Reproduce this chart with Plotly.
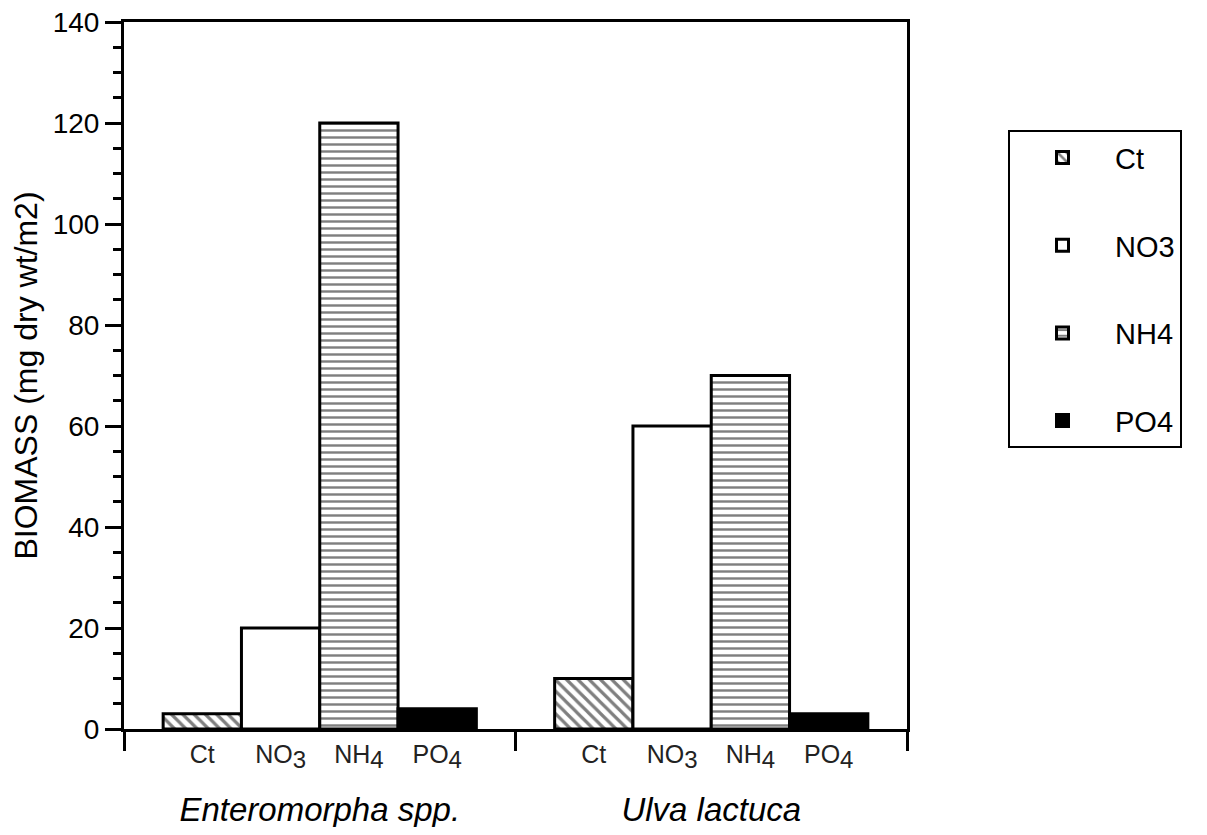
import plotly.graph_objects as go

# ---- data ----
groups = ["Enteromorpha spp.", "Ulva lactuca"]
treatments = ["Ct", "NO3", "NH4", "PO4"]
sub_labels = ["Ct",
              "NO<sub><span style='font-size:24px'>3</span></sub>",
              "NH<sub><span style='font-size:24px'>4</span></sub>",
              "PO<sub><span style='font-size:24px'>4</span></sub>"]
ct_vals = [3, 10]
no3_vals = [20, 60]
nh4_vals = [120, 70]
po4_vals = [4, 3]

series = [ct_vals, no3_vals, nh4_vals, po4_vals]

FONT = "Liberation Sans, Arial, sans-serif"
BAR_SPAN = len(treatments) + 1  # bars per group plus half-bar gap on each side

styles = [
    dict(color="white", pattern=dict(shape="\\", fgcolor="black", bgcolor="white", size=8, solidity=0.4)),
    dict(color="white"),
    dict(color="white", pattern=dict(shape="-", fgcolor="black", bgcolor="white", size=7, solidity=0.35)),
    dict(color="black"),
]

def xpos(g, j):
    return g * BAR_SPAN + j + 1

fig = go.Figure()
for j, (name, vals) in enumerate(zip(treatments, series)):
    fig.add_trace(go.Bar(
        name=name,
        legendgroup=name,
        x=[xpos(g, j) for g in range(len(groups))],
        y=vals,
        width=1,
        marker=dict(line=dict(color="black", width=3), **styles[j]),
    ))

tickvals = [xpos(g, j) for g in range(len(groups)) for j in range(len(treatments))]
ticktext = [sub_labels[j] for g in range(len(groups)) for j in range(len(treatments))]
group_centers = [g * BAR_SPAN + BAR_SPAN / 2 for g in range(len(groups))]
group_bounds = [g * BAR_SPAN for g in range(len(groups) + 1)]
xrange = [0, len(groups) * BAR_SPAN]

# invisible carrier so the group-label axis is drawn
fig.add_trace(go.Scatter(x=group_centers, y=[0] * len(groups), xaxis="x2", mode="none",
                         showlegend=False, hoverinfo="skip"))

fig.update_layout(
    width=1191, height=819,
    paper_bgcolor="white", plot_bgcolor="white",
    margin=dict(l=116, r=292, t=14, b=98, autoexpand=False),
    barmode="overlay",
    font=dict(family=FONT, color="black", size=24),
    xaxis=dict(
        range=xrange, showgrid=False, zeroline=False, automargin=False,
        showline=True, linecolor="black", linewidth=3, mirror=True,
        tickmode="array", tickvals=tickvals, ticktext=ticktext,
        ticks="", tickfont=dict(size=25, color="#222"),
        ticklabelstandoff=1, ticklabeloverflow="allow",
        minor=dict(tickmode="array", tickvals=group_bounds, ticks="outside",
                   ticklen=19, tickwidth=3, tickcolor="black", showgrid=False),
    ),
    xaxis2=dict(
        overlaying="x", anchor="y", side="bottom", range=xrange, automargin=False,
        showgrid=False, zeroline=False, showline=False, ticks="",
        tickmode="array", tickvals=group_centers,
        ticktext=[f"<i>{g}</i>" for g in groups],
        tickfont=dict(size=33), ticklabelstandoff=58, ticklabeloverflow="allow",
    ),
    yaxis=dict(
        range=[0, 140], showgrid=False, zeroline=False, automargin=False,
        showline=True, linecolor="black", linewidth=3, mirror=True,
        tickmode="array", tickvals=list(range(0, 141, 20)),
        ticks="outside", ticklen=16, tickwidth=3, tickcolor="black",
        tickfont=dict(size=28), ticklabeloverflow="allow",
        minor=dict(dtick=5, ticks="outside", ticklen=8, tickwidth=3, tickcolor="black", showgrid=False),
        title=dict(text="BIOMASS (mg dry wt/m2)", font=dict(size=32), standoff=8),
    ),
    legend=dict(
        x=1.129, y=0.847, xanchor="left", yanchor="top",
        bordercolor="black", borderwidth=2, bgcolor="white",
        font=dict(size=29), tracegroupgap=47, itemwidth=95,
        traceorder="grouped",
    ),
)

fig.write_html("out.html")
